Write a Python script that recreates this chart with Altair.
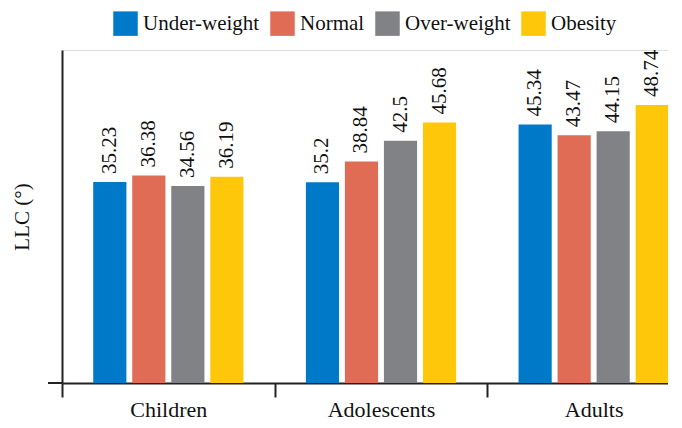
import altair as alt
import pandas as pd

groups = ["Children", "Adolescents", "Adults"]
categories = ["Under-weight", "Normal", "Over-weight", "Obesity"]
children = [35.23, 36.38, 34.56, 36.19]
adolescents = [35.2, 38.84, 42.5, 45.68]
adults = [45.34, 43.47, 44.15, 48.74]
colors = ["#0079C8", "#E06C56", "#818285", "#FFC70A"]

rows = []
for g, vals in zip(groups, [children, adolescents, adults]):
    for c, v in zip(categories, vals):
        rows.append({"group": g, "cat": c, "val": v})
df = pd.DataFrame(rows)

FONT = "Liberation Serif"
W, H = 606, 333

x = alt.X("group:N", sort=groups, title=None,
          scale=alt.Scale(range=[0, 638], paddingInner=0, paddingOuter=0),
          axis=alt.Axis(labelAngle=0, tickBand="extent", labelFontSize=22, labelFont=FONT,
                        labelColor="#111", domainColor="#222", domainWidth=2, tickColor="#222",
                        tickWidth=2, tickSize=14, labelPadding=2))
xo = alt.XOffset("cat:N", sort=categories,
                 scale=alt.Scale(paddingInner=0.15, paddingOuter=0.8))
y = alt.Y("val:Q", scale=alt.Scale(domain=[0, 58.4], nice=False), title="LLC (°)",
          axis=alt.Axis(labels=False, ticks=False, grid=False, domainColor="#222", domainWidth=2,
                        titleFont=FONT, titleFontSize=21, titleFontWeight="normal", titleColor="#111",
                        titleAngle=270, titleX=-40, titleAlign="center",
                        titleBaseline="middle"))
color = alt.Color("cat:N", sort=categories, title=None,
                  scale=alt.Scale(domain=categories, range=colors),
                  legend=alt.Legend(orient="none", legendX=51, legendY=-39, direction="horizontal",
                                    symbolType="square", symbolSize=600, symbolStrokeWidth=0,
                                    labelFont=FONT, labelFontSize=21, labelColor="#111",
                                    labelOffset=5, columnPadding=10))

base = alt.Chart(df)
bars = base.mark_bar().encode(x=x, xOffset=xo, y=y, color=color)
text = base.mark_text(angle=270, align="left", baseline="middle", dx=8, font=FONT,
                      fontSize=21, color="#111").encode(x=x, xOffset=xo, y=y, text=alt.Text("val:Q"))
rule = alt.Chart(pd.DataFrame({"a": [0]})).mark_rule(color="#222", strokeWidth=2).encode(
    x=alt.value(-14), x2=alt.value(0), y=alt.value(H))

chart = alt.layer(bars, text, rule).properties(
    width=W, height=H,
    autosize=alt.AutoSizeParams(type="none"),
    padding={"left": 54, "top": 42, "right": 0, "bottom": 40},
).configure_view(stroke=None).configure(font=FONT)

chart.save("out.html", embed_options={"renderer": "svg", "actions": False})
